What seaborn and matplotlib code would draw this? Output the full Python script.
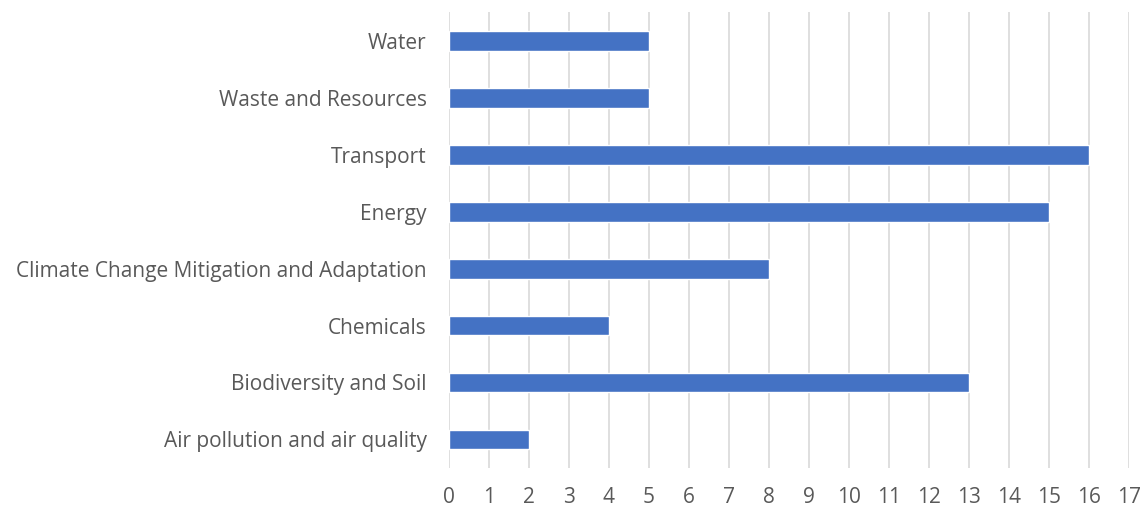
import matplotlib
matplotlib.use("Agg")
import matplotlib.pyplot as plt
import seaborn as sns
import pandas as pd

categories = [
    "Water",
    "Waste and Resources",
    "Transport",
    "Energy",
    "Climate Change Mitigation and Adaptation",
    "Chemicals",
    "Biodiversity and Soil",
    "Air pollution and air quality",
]
values = [5, 5, 16, 15, 8, 4, 13, 2]
x_ticks = list(range(0, 18))

df = pd.DataFrame({"category": categories, "value": values})

sns.set_theme(style="white")
plt.rcParams["font.family"] = ["Open Sans", "DejaVu Sans"]

fig = plt.figure(figsize=(11.45, 5.07), dpi=100)
ax = fig.add_axes([0.392, 0.077, 0.594, 0.899])

sns.barplot(data=df, x="value", y="category", order=categories,
            color="#4472C4", saturation=1, width=0.35, ax=ax, zorder=3)

ax.set_xlim(0, 17)
ax.set_ylim(7.5, -0.5)
ax.set_xticks(x_ticks)
ax.grid(axis="x", color="#D9D9D9", linewidth=1.2, zorder=0)
ax.grid(axis="y", visible=False)
for s in ax.spines.values():
    s.set_visible(False)
ax.set_xlabel("")
ax.set_ylabel("")
ax.tick_params(axis="both", length=0, labelsize=15, colors="#595959")
ax.tick_params(axis="x", pad=14)
ax.tick_params(axis="y", pad=16)

fig.savefig("out.png", dpi=100)
